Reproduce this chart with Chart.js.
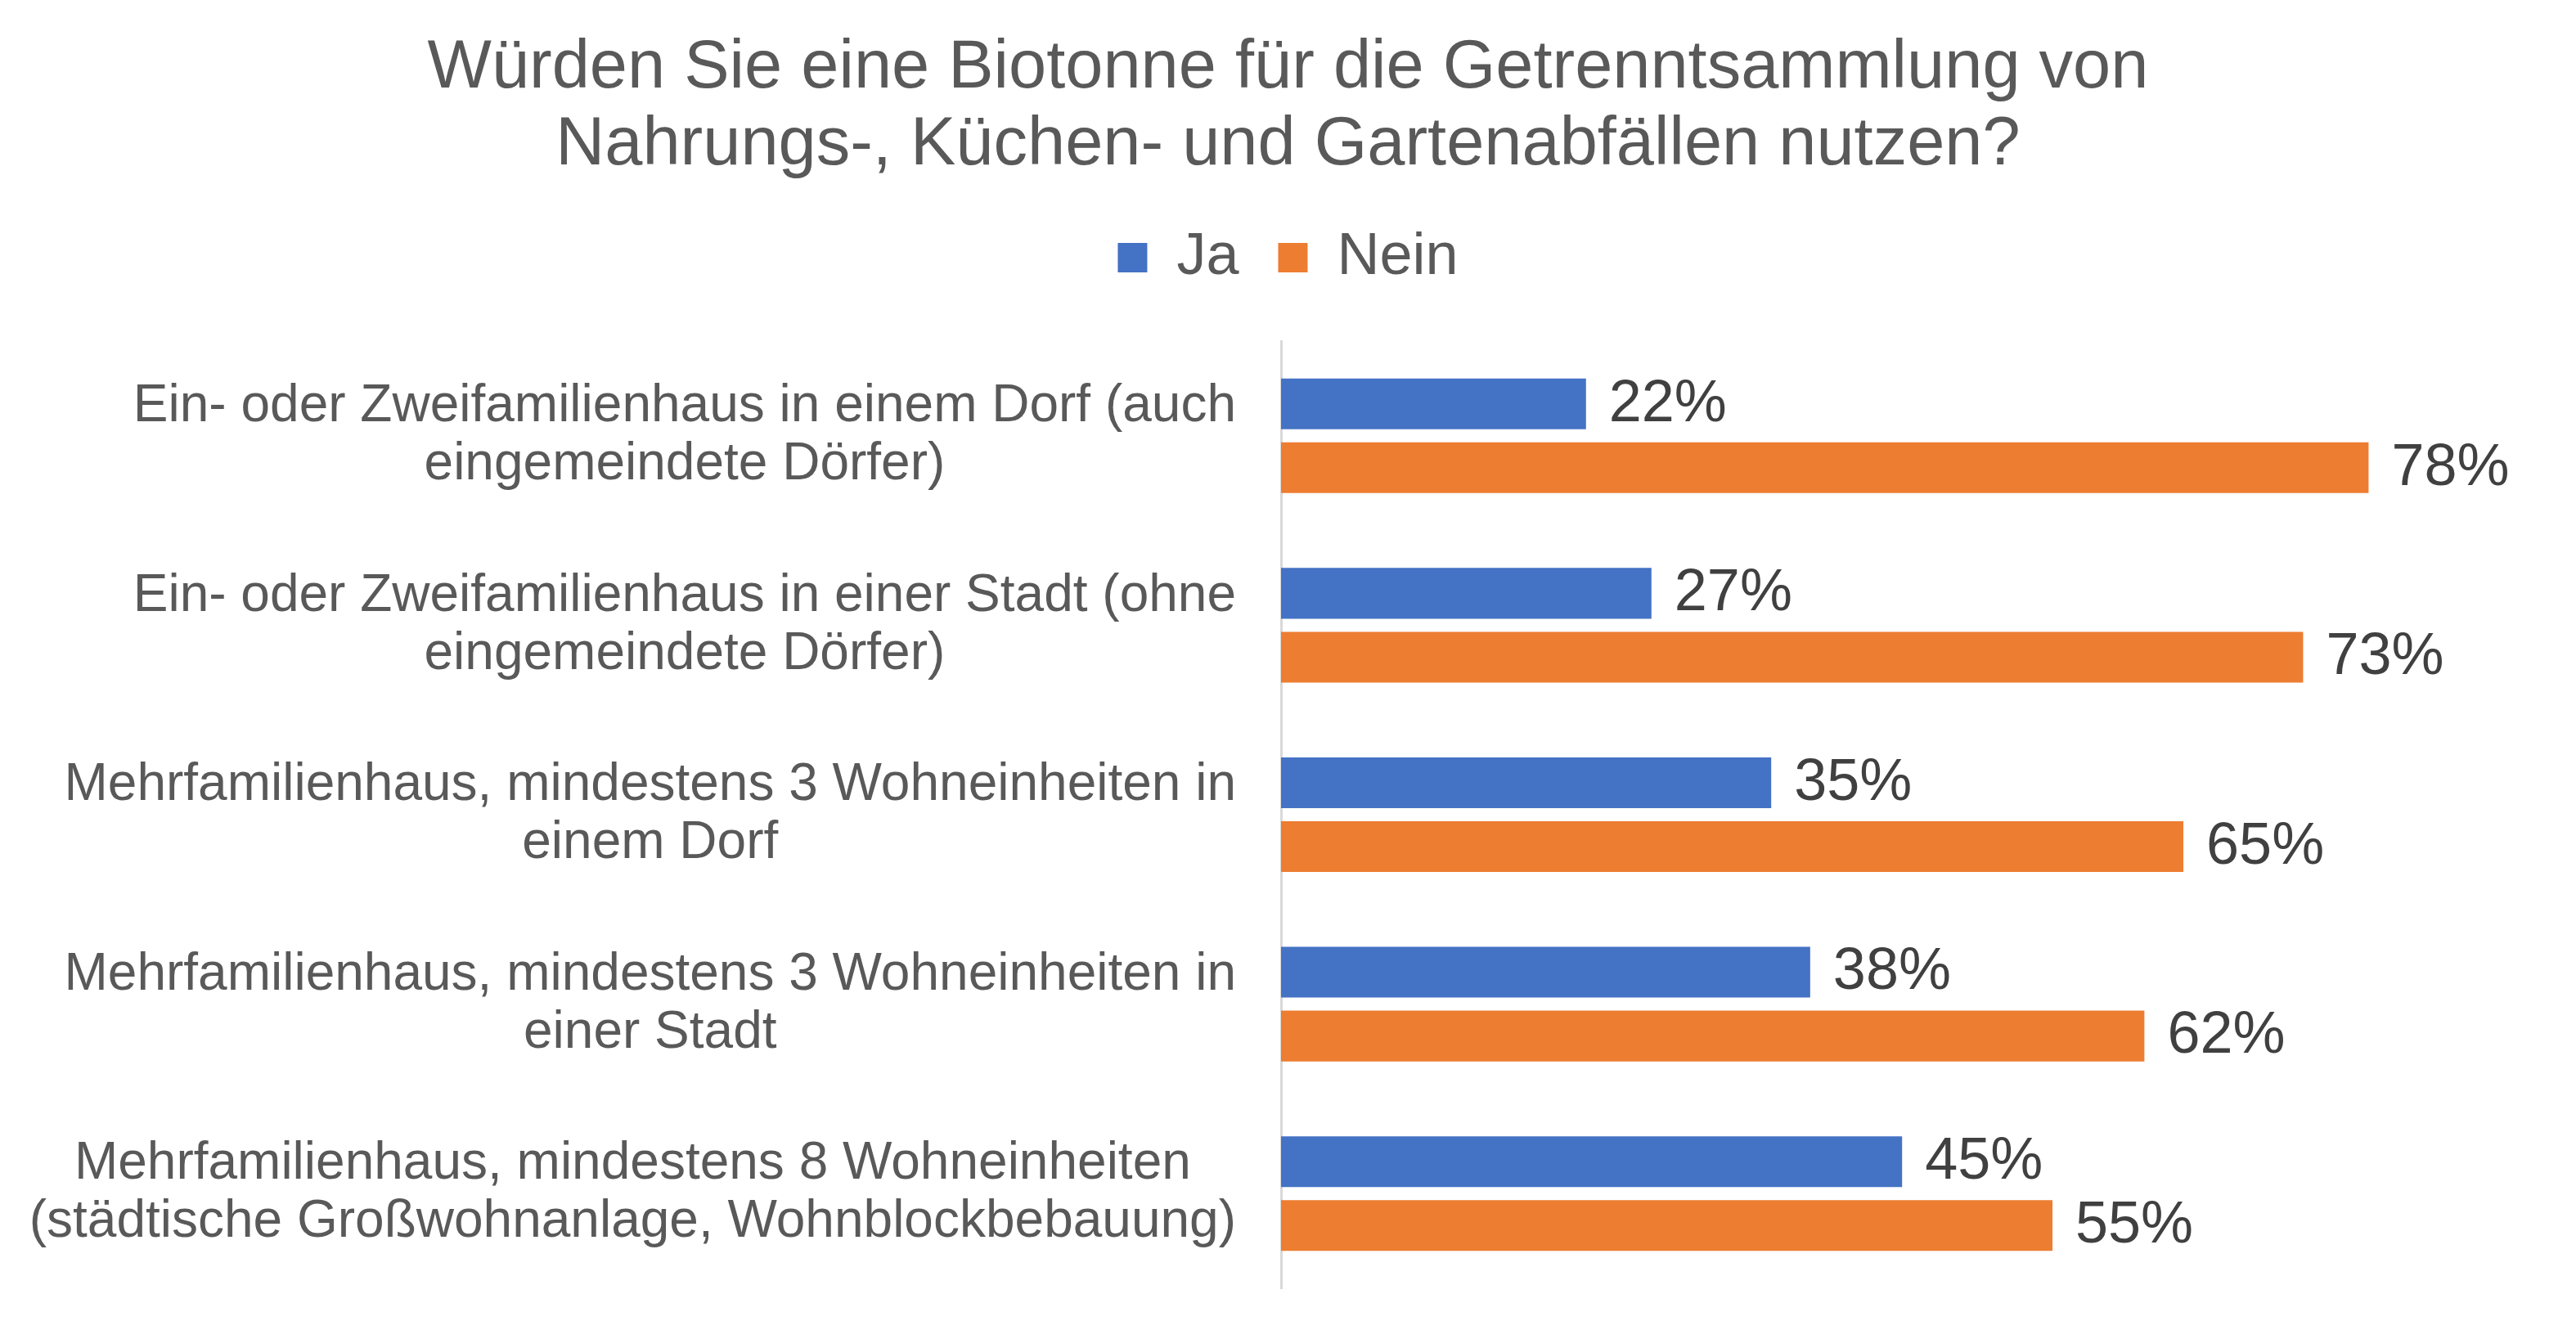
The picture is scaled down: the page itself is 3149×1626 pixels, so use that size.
<!DOCTYPE html>
<html>
<head>
<meta charset="utf-8">
<title>Biotonne</title>
<script src="https://cdn.jsdelivr.net/npm/chart.js@4"></script>
<style>
  html, body { margin: 0; padding: 0; background: #fff; }
  #wrap { width: 3149px; height: 1626px; }
</style>
</head>
<body>
<div id="wrap"><canvas id="myChart" width="3149" height="1626"></canvas></div>
<script>
// --- Data ---
const titleLines = [
  "Würden Sie eine Biotonne für die Getrenntsammlung von",
  "Nahrungs-, Küchen- und Gartenabfällen nutzen?"
];
const categories = [
  ["Ein- oder Zweifamilienhaus in einem Dorf (auch", "eingemeindete Dörfer)"],
  ["Ein- oder Zweifamilienhaus in einer Stadt (ohne", "eingemeindete Dörfer)"],
  ["Mehrfamilienhaus, mindestens 3 Wohneinheiten in", "einem Dorf"],
  ["Mehrfamilienhaus, mindestens 3 Wohneinheiten in", "einer Stadt"],
  ["Mehrfamilienhaus, mindestens 8 Wohneinheiten", "(städtische Großwohnanlage, Wohnblockbebauung)"]
];
const seriesNames = ["Ja", "Nein"];
// bar lengths (labels show them rounded)
const jaValues = [21.9, 26.6, 35.2, 38.0, 44.6];
const neinValues = [78.1, 73.4, 64.8, 62.0, 55.4];

const FONT = "'Liberation Sans', Arial, sans-serif";

// --- Category labels: lines centred on each other, block right-aligned at the axis ---
const categoryLabels = {
  id: "categoryLabels",
  afterDraw(chart) {
    const ctx = chart.ctx;
    const yScale = chart.scales.y;
    const rightEdge = yScale.right - 55;
    const lineHeight = 71;
    ctx.save();
    ctx.font = "64px " + FONT;
    ctx.fillStyle = "#595959";
    ctx.textAlign = "center";
    ctx.textBaseline = "middle";
    categories.forEach((lines, i) => {
      const y = yScale.getPixelForTick(i);
      const widest = Math.max(...lines.map(l => ctx.measureText(l).width));
      const cx = rightEdge - widest / 2;
      lines.forEach((line, k) => {
        ctx.fillText(line, cx, y + (k - (lines.length - 1) / 2) * lineHeight);
      });
    });
    ctx.restore();
  }
};

// --- Value labels after the bar ends ---
const valueLabels = {
  id: "valueLabels",
  afterDatasetsDraw(chart) {
    const ctx = chart.ctx;
    ctx.save();
    ctx.font = "72px " + FONT;
    ctx.fillStyle = "#404040";
    ctx.textAlign = "left";
    ctx.textBaseline = "middle";
    chart.data.datasets.forEach((ds, i) => {
      chart.getDatasetMeta(i).data.forEach((bar, j) => {
        ctx.fillText(Math.round(ds.data[j]) + "%", bar.x + 28, bar.y + 1);
      });
    });
    ctx.restore();
  }
};

const ctx = document.getElementById("myChart");
const chart = new Chart(ctx, {
  type: "bar",
  data: {
    labels: categories,
    datasets: [
      { label: seriesNames[0], data: jaValues, backgroundColor: "#4472C4" },
      { label: seriesNames[1], data: neinValues, backgroundColor: "#ED7D31" }
    ]
  },
  options: {
    indexAxis: "y",
    responsive: false,
    animation: false,
    devicePixelRatio: 1,
    barPercentage: 0.795,
    categoryPercentage: 0.674,
    layout: { padding: { top: 0, right: 51, bottom: 51, left: 51 } },
    scales: {
      x: {
        position: "top",
        min: 0,
        max: 90,
        ticks: { display: false },
        grid: { display: false },
        border: { display: false },
        afterFit: scale => { scale.height = 56; }
      },
      y: {
        ticks: { display: false },
        grid: { display: false },
        border: { display: true, color: "#D9D9D9", width: 3 },
        afterFit: scale => { scale.width = 1515; }
      }
    },
    plugins: {
      title: {
        display: true,
        text: titleLines,
        color: "#595959",
        font: { family: FONT, size: 83, weight: "normal", lineHeight: 94 / 83 },
        padding: { top: 37, bottom: 6 }
      },
      legend: {
        position: "top",
        labels: {
          color: "#595959",
          font: { family: FONT, size: 72 },
          boxWidth: 36,
          boxHeight: 36,
          padding: 48
        }
      },
      tooltip: { enabled: false }
    }
  },
  plugins: [categoryLabels, valueLabels]
});
</script>
</body>
</html>
